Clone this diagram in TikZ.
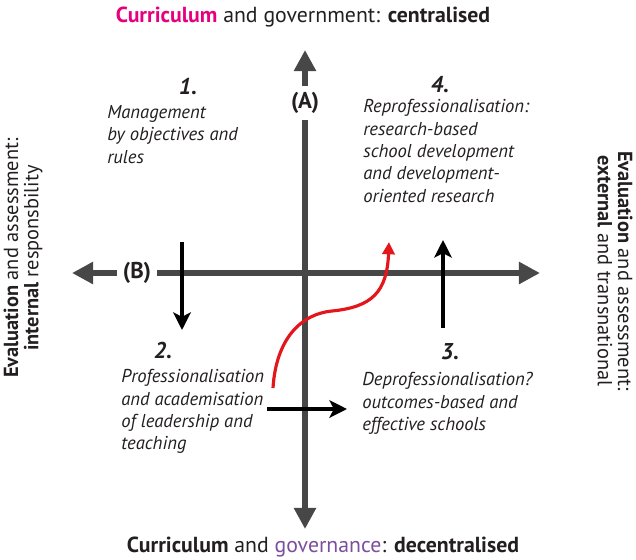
\documentclass[tikz,border=0pt]{standalone}
\usepackage{fontspec}
\setmainfont{PT Sans}
\usepackage{xcolor}
\usetikzlibrary{arrows.meta}
\definecolor{curricpink}{HTML}{E6007E}
\definecolor{govpurple}{HTML}{7D4E9E}
\definecolor{axisgray}{HTML}{474747}
\definecolor{inkgray}{HTML}{231F20}
\definecolor{routered}{HTML}{E3161B}

\begin{document}
\begin{tikzpicture}
[x=0.02cm,y=-0.02cm,
axis/.style={draw=axisgray,line width=3.6pt,-{Triangle[length=12pt,width=12pt]}},
shiftarrow/.style={draw=black,line width=2pt,-{Stealth[length=10pt,width=10pt,inset=2.5pt]}},
route/.style={draw=routered,line width=1.8pt,-{Triangle[length=7pt,width=7pt]}},
quad/.style={anchor=north west,align=left,inner sep=0pt,text=inkgray,font=\itshape\fontsize{10.6}{12.75}\selectfont},
num/.style={text=inkgray,font=\bfseries\itshape\fontsize{13}{14}\selectfont},
axlab/.style={text=inkgray,font=\bfseries\fontsize{13}{14}\selectfont},
title/.style={text=inkgray,font=\fontsize{12.4}{13}\selectfont},
side/.style={align=center,text=inkgray,font=\fontsize{11.6}{11.5}\selectfont}]

\useasboundingbox (0,0) rectangle (636,559);

% titles round the cross
\node at (303,17)  [title] (toptitle) {\textbf{\color{curricpink}Curriculum} and government: \textbf{centralised}};
\node at (323,547) [title] (bottitle) {\textbf{Curriculum} and {\color{govpurple}governance}: \textbf{decentralised}};
\node at (23,258)  [side,rotate=90]  (lefttitle)  {\textbf{Evaluation} and assessment:\\ \textbf{internal} responsbility};
\node at (615,271) [side,rotate=-90] (righttitle) {\textbf{Evaluation} and assessment:\\ \textbf{external} and transnational};

% the two axes
\node at (305,103) [axlab] (A) {(A)};
\node at (137,273) [axlab] (B) {(B)};
\coordinate (top) at (305,50);
\coordinate (bot) at (305,529);
\coordinate (lft) at (72,273);
\coordinate (rgt) at (540,273);
\draw [axis] (A.north) to (top);
\draw [axis] (A.south) to (bot);
\draw [axis] (B.west) to (lft);
\draw [axis] (B.east) to (rgt);

% quadrants
\node at (188,86) [num] (n1) {1.};
\node at (107,105) [quad] (q1) {Management\\by objectives and\\rules};
\node at (440,85) [num] (n4) {4.};
\node at (363,99) [quad] (q4) {Reprofessionalisation:\\research-based\\school development\\and development-\\oriented research};
\node at (163,350) [num] (n2) {2.};
\node at (121,369) [quad] (q2) {Professionalisation\\and academisation\\of leadership and\\teaching};
\node at (450,352) [num] (n3) {3.};
\node at (362,372) [quad] (q3) {Deprofessionalisation?\\outcomes-based and\\effective schools};

% shifts between quadrants
\coordinate (s1a) at (182,242);
\coordinate (s1b) at (182,330);
\coordinate (s2a) at (443,328);
\coordinate (s2b) at (443,240);
\coordinate (s3a) at (267,409);
\coordinate (s3b) at (347,409);
\draw [shiftarrow] (s1a) to (s1b);
\draw [shiftarrow] (s2a) to (s2b);
\draw [shiftarrow] (s3a) to (s3b);

\coordinate (r0) at (273,388);
\coordinate (r1) at (389,242);
\draw [route] (r0) .. controls (276,340) and (300,314) .. (332,311) .. controls (372,307) and (387,292) .. (r1);
\end{tikzpicture}
\end{document}
